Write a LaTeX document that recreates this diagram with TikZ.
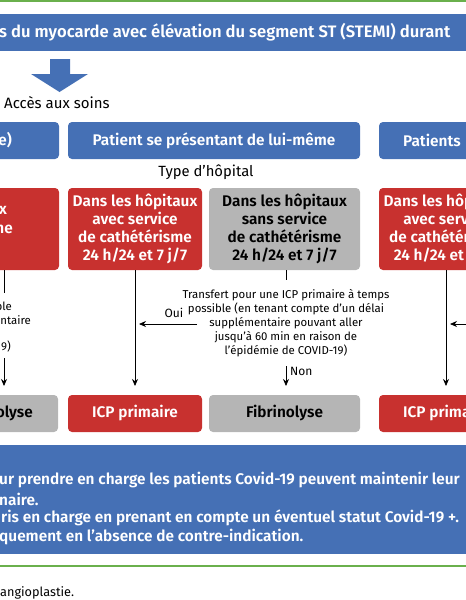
\documentclass[tikz,border=0pt]{standalone}
\usepackage{fontspec}
\setmainfont{Fira Sans}[BoldFont={Fira Sans SemiBold}]
\usetikzlibrary{arrows.meta}
\definecolor{bl}{HTML}{4570B5}
\definecolor{rd}{HTML}{C8312F}
\definecolor{gr}{HTML}{B5B5B5}
\definecolor{gn}{HTML}{6AB04C}
\tikzset{
  box/.style={rounded corners=4pt, inner sep=0pt, align=center, font=\bfseries\fontsize{15.4}{18}\selectfont},
  bluebox/.style={box, fill=bl, text=white, minimum height=37pt},
  redbox/.style={box, fill=rd, text=white},
  graybox/.style={box, fill=gr, text=black},
  frag/.style={inner sep=0pt, font=\bfseries\fontsize{15.4}{18}\selectfont},
  small/.style={inner sep=0pt, align=center, font=\fontsize{11.4}{14}\selectfont},
  conn/.style={line width=0.8pt, draw=black},
  arr/.style={conn, -{Stealth[length=7pt,width=6pt]}},
  greenline/.style={draw=gn, line width=2pt},
}
\begin{document}
\begin{tikzpicture}[x=1pt,y=-1pt]
\useasboundingbox (0,0) rectangle (466,600);
% green rules
\draw[greenline] (-5,1) -- (471,1);
\draw[greenline] (-5,566) -- (471,566);
% title bar
\fill[bl] (-5,14) rectangle (471,51);
\node[anchor=west, inner sep=0pt, text=white, font=\bfseries\fontsize{16.6}{18}\selectfont] (title) at (-1,32.5) {s du myocarde avec élévation du segment ST (STEMI) durant};
% block arrow
\fill[bl] (50,59) -- (70,59) -- (70,74) -- (88,74) -- (59.5,92) -- (31,74) -- (50,74) -- cycle;
\node[anchor=west, inner sep=0pt, font=\fontsize{15}{16}\selectfont] (acces) at (4,103) {Accès aux soins};
% blue boxes
\node[bluebox, minimum width=159pt] (p1) at (-20.5,140.5) {};
\node[frag, anchor=east, text=white] (p1t) at (12,140.5) {e)};
\node[bluebox, minimum width=292pt] (p2) at (214,140.5) {Patient se présentant de lui-même};
\node[bluebox, minimum width=181pt] (p3) at (469.5,140.5) {};
\node[frag, anchor=west, text=white] (p3t) at (403,140.5) {Patients};
\node[inner sep=0pt, font=\fontsize{14.8}{16}\selectfont] (type) at (206,172) {Type d’hôpital};
% hospital boxes
\node[redbox, minimum width=139pt, minimum height=82pt] (a) at (-10.5,229) {};
\node[frag, anchor=east, text=white] (ax) at (7,210) {x};
\node[frag, anchor=east, text=white] (ane) at (13,229) {ne};
\node[redbox, minimum width=134pt, minimum height=82pt] (b) at (135,229) {Dans les hôpitaux\\avec service\\de cathétérisme\\24 h/24 et 7 j/7};
\node[graybox, minimum width=151pt, minimum height=82pt] (c) at (284.5,229) {Dans les hôpitaux\\sans service\\de cathétérisme\\24 h/24 et 7 j/7};
\node[redbox, minimum width=134pt, minimum height=82pt] (d) at (446,229) {Dans les hôpitaux\\avec service\\de cathétérisme\\24 h/24 et 7 j/7};
% result boxes
\node[graybox, minimum width=138pt, minimum height=37pt] (a2) at (-11,413.5) {};
\node[frag, anchor=east] (a2t) at (33,413.5) {olyse};
\node[redbox, minimum width=134pt, minimum height=37pt] (b2) at (135,413.5) {ICP primaire};
\node[graybox, minimum width=151pt, minimum height=37pt] (c2) at (284.5,413.5) {Fibrinolyse};
\node[redbox, minimum width=134pt, minimum height=37pt] (d2) at (446,413.5) {ICP primaire};
% column A
\coordinate (a1) at (4,270);
\coordinate (a1e) at (4,293);
\draw[conn] (a1) -- (a1e);
\node[small, anchor=east] (ab1) at (12,306) {ble};
\node[small, anchor=east] (ab2) at (31,320) {entaire};
\node[small, anchor=east] (ab3) at (11,347) {9)};
\coordinate (a3) at (4,358);
\coordinate (a4) at (4,386);
\draw[arr] (a3) -- (a4);
% column B
\coordinate (bend) at (135,386);
\draw[arr] (b.south) -- (bend);
% column C
\coordinate (c1) at (286,280);
\draw[conn] (c.south -| c1) -- (c1);
\node[small] (ctxt) at (286,323) {Transfert pour une ICP primaire à temps\\possible (en tenant compte d’un délai\\supplémentaire pouvant aller\\jusqu’à 60 min en raison de\\l’épidémie de COVID-19)};
\coordinate (c3) at (286,366);
\coordinate (c4) at (286,386);
\draw[arr] (c3) -- (c4);
\node[small, anchor=west, font=\fontsize{12}{14}\selectfont] (non) at (290,371) {Non};
% oui arrow
\coordinate (o1) at (197,324);
\coordinate (o2) at (139,324);
\draw[arr] (o1) -- (o2);
\node[small, font=\fontsize{12}{14}\selectfont] (oui) at (174,313) {Oui};
% column D
\coordinate (dend) at (446,386);
\draw[arr] (d.south) -- (dend);
\coordinate (r1) at (472,324);
\coordinate (r2) at (450,324);
\draw[arr] (r1) -- (r2);
% bottom blue box
\fill[bl] (-5,445) rectangle (471,554);
\node[frag, anchor=west, text=white] (l1) at (-1,480) {ur prendre en charge les patients Covid-19 peuvent maintenir leur};
\node[frag, anchor=west, text=white] (l2) at (-1,499) {naire.};
\node[frag, anchor=west, text=white] (l3) at (1,518) {ris en charge en prenant en compte un éventuel statut Covid-19 +.};
\node[frag, anchor=west, text=white] (l4) at (-1,537) {quement en l’absence de contre-indication.};
\node[anchor=west, inner sep=0pt, font=\fontsize{12.7}{14}\selectfont] (foot) at (0,593) {angioplastie.};
\end{tikzpicture}
\end{document}
